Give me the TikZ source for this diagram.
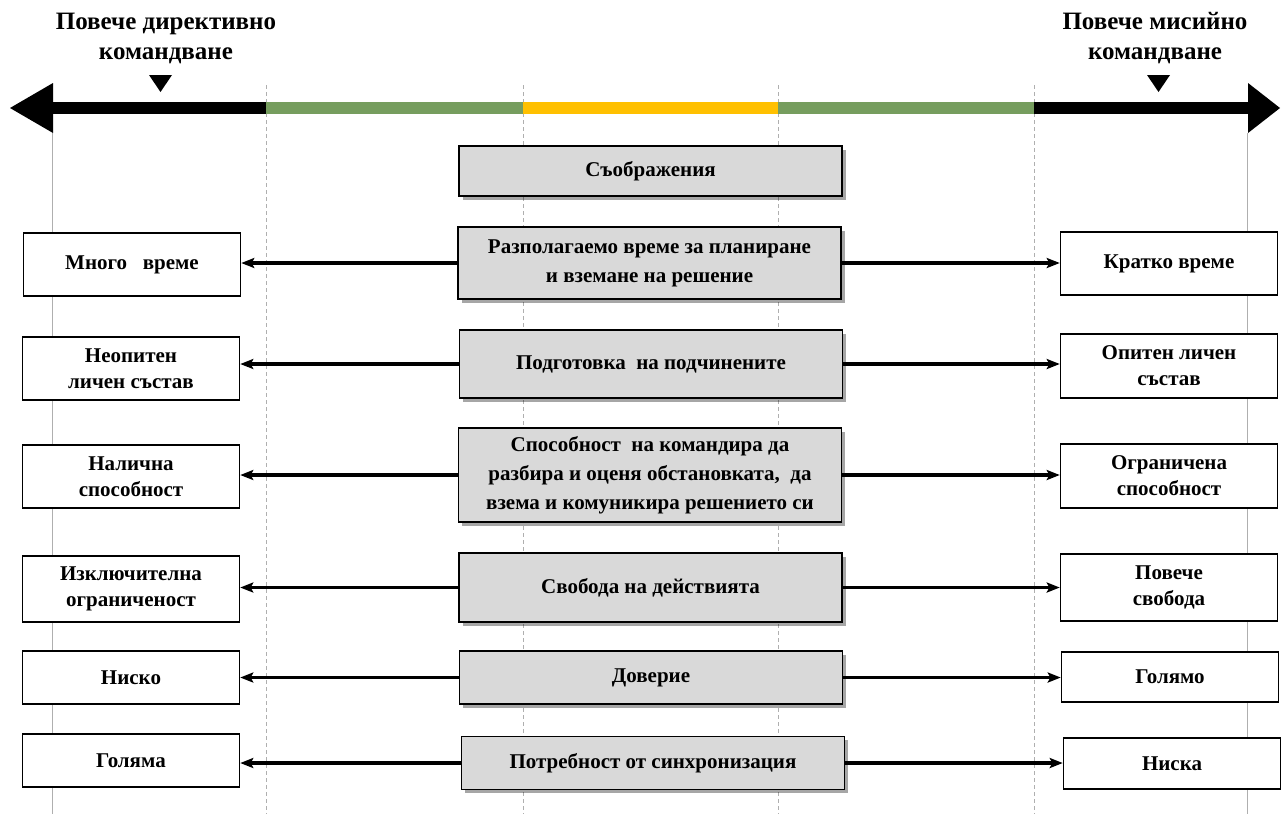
\documentclass[tikz,border=0pt]{standalone}
\usepackage{fontspec}
\setmainfont{Liberation Serif}
\usetikzlibrary{arrows.meta,shadows}
\definecolor{barGreen}{RGB}{118,157,94}
\definecolor{barYellow}{RGB}{255,192,0}
\definecolor{boxGray}{RGB}{217,217,217}
\definecolor{guideGray}{RGB}{175,175,175}
\begin{document}
\begin{tikzpicture}[x=1pt,y=-1pt,
  cbox/.style={font=\bfseries\fontsize{21}{29}\selectfont, draw=black, line width=1.7pt, fill=boxGray, align=center, inner sep=0pt,
     minimum width=383pt, drop shadow={shadow xshift=3.5pt,shadow yshift=-3.5pt,opacity=0.35,fill=black}},
  sbox/.style={font=\bfseries\fontsize{21}{26}\selectfont, draw=black, line width=1.5pt, fill=white, align=center, inner sep=0pt,
     minimum width=217pt},
  conn/.style={line width=3.2pt, -{Stealth[length=13pt,width=10pt,inset=2.5pt]}},
  toplabel/.style={font=\bfseries\fontsize{25}{30}\selectfont, align=center, inner sep=0pt},
  solidguide/.style={draw=guideGray, line width=1pt},
  dashguide/.style={draw=guideGray, line width=1pt, dash pattern=on 4pt off 3pt},
  marker/.style={fill=black}]
\useasboundingbox (0,0) rectangle (1281,814);
% guides
\draw[solidguide] (52,133) -- (52,814);
\draw[solidguide] (1247,133) -- (1247,814);
\foreach \gx in {266,523,778,1034} {\draw[dashguide] (\gx,85) -- (\gx,814);}
% main bar
\fill[black] (53,102) rectangle (266,114);
\fill[barGreen] (266,102) rectangle (523,114);
\fill[barYellow] (523,102) rectangle (778,114);
\fill[barGreen] (778,102) rectangle (1034,114);
\fill[black] (1034,102) rectangle (1248,114);
\fill[black] (10,108) -- (53,83) -- (53,133) -- cycle;
\fill[black] (1280,108) -- (1248,83) -- (1248,133) -- cycle;
% markers
\fill[marker] (149,75) -- (172,75) -- (160.5,92) -- cycle;
\fill[marker] (1147,75) -- (1170,75) -- (1158.5,92) -- cycle;
% top labels
\node[toplabel] (tl) at (166,38) {Повече директивно\\командване};
\node[toplabel] (tr) at (1155,38) {Повече мисийно\\командване};
% center boxes
\node[cbox, minimum height=50pt] (c0) at (650.5,171) {Съображения};
\node[cbox, minimum height=72pt] (c1) at (649.5,263) {Разполагаемо време за планиране\\и вземане на решение};
\node[cbox, minimum height=68pt] (c2) at (651,364) {Подготовка\ \ на подчинените};
\node[cbox, minimum height=94pt] (c3) at (650,475) {Способност\ \ на командира да\\разбира и оценя обстановката,\ \ да\\взема и комуникира\ решението\ си};
\node[cbox, minimum height=69pt] (c4) at (650.5,587.5) {Свобода на действията};
\node[cbox, minimum height=53pt] (c5) at (651,677.5) {Доверие};
\node[cbox, minimum height=53pt] (c6) at (653,763) {Потребност\ от\ синхронизация};
% left boxes
\node[sbox, minimum height=63pt] (l1) at (132,264.5) {Много\ \ \ време};
\node[sbox, minimum height=63pt] (l2) at (131,368.5) {Неопитен\\личен състав};
\node[sbox, minimum height=63pt] (l3) at (131,476.5) {Налична\\способност};
\node[sbox, minimum height=66pt] (l4) at (131,589) {Изключителна\\ограниченост};
\node[sbox, minimum height=53pt] (l5) at (131,677.5) {Ниско};
\node[sbox, minimum height=53pt] (l6) at (131,760.5) {Голяма};
% right boxes
\node[sbox, minimum height=63pt] (r1) at (1169,263.5) {Кратко\ време};
\node[sbox, minimum height=64pt] (r2) at (1169,366) {Опитен\ личен\\състав};
\node[sbox, minimum height=64pt] (r3) at (1169,476) {Ограничена\\способност};
\node[sbox, minimum height=67pt] (r4) at (1169,587.5) {Повече\\свобода};
\node[sbox, minimum height=50pt] (r5) at (1170,677) {Голямо};
\node[sbox, minimum height=51pt] (r6) at (1172,763.5) {Ниска};
% connectors
\foreach \c/\l/\r in {c1/l1/r1,c2/l2/r2,c3/l3/r3,c4/l4/r4,c5/l5/r5,c6/l6/r6} {
  \draw[conn] (\c.west) -- (\c.west -| \l.east);
  \draw[conn] (\c.east) -- (\c.east -| \r.west);
}
\end{tikzpicture}
\end{document}
